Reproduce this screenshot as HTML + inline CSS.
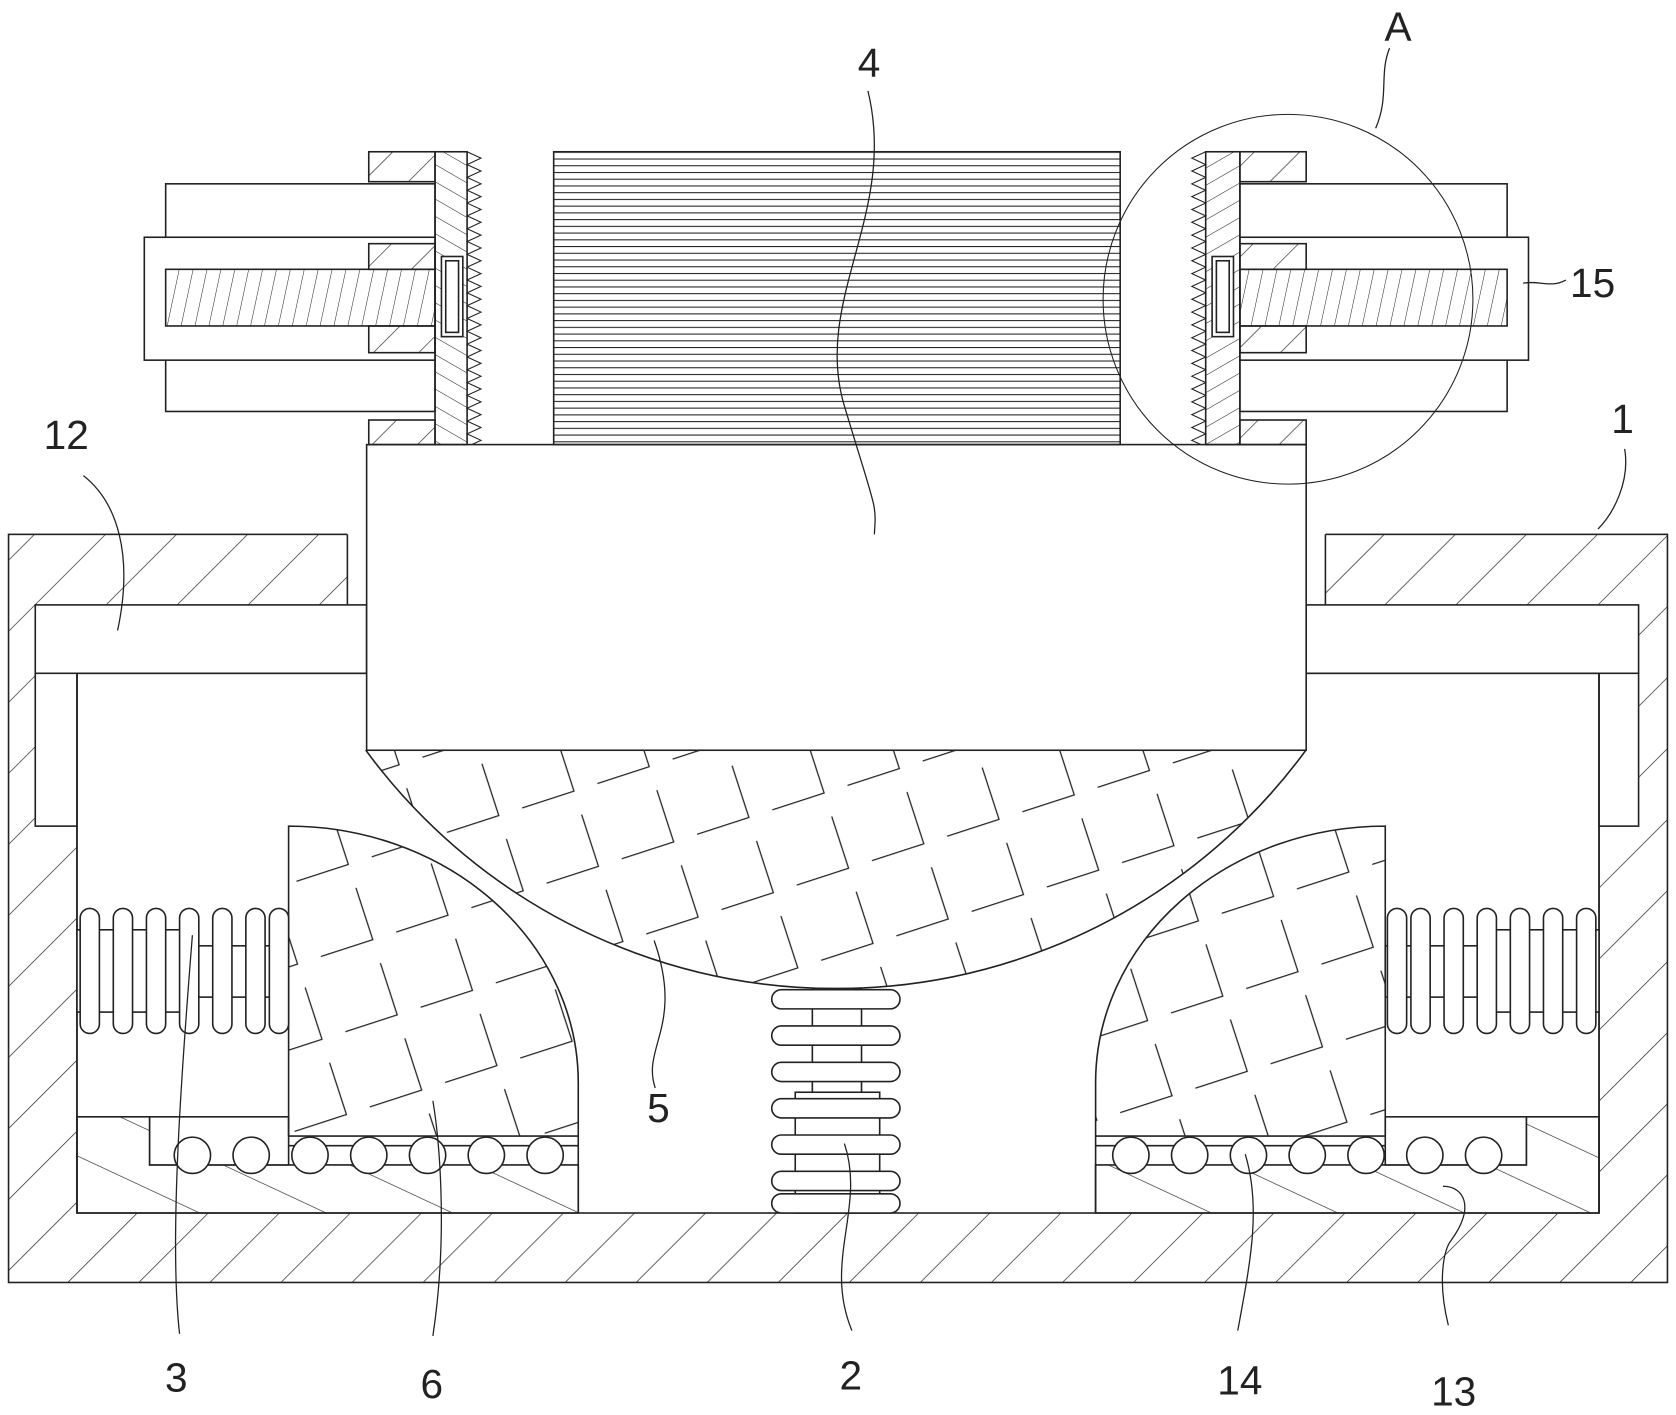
<!DOCTYPE html>
<html><head><meta charset="utf-8"><style>html,body{margin:0;padding:0;background:#fff}svg{display:block}</style></head><body>
<svg width="1676" height="1415" viewBox="0 0 1568 1324" preserveAspectRatio="none" xmlns="http://www.w3.org/2000/svg" font-family="Liberation Sans, sans-serif">
<defs>
<pattern id="h45" width="47" height="47" patternUnits="userSpaceOnUse" patternTransform="rotate(45)"><line x1="0" y1="0" x2="0" y2="47" stroke="#222" stroke-width="1.3"/></pattern>
<pattern id="hs" width="30" height="30" patternUnits="userSpaceOnUse" patternTransform="rotate(45)"><line x1="0" y1="0" x2="0" y2="30" stroke="#222" stroke-width="1.2"/></pattern>
<pattern id="hb" width="50" height="50" patternUnits="userSpaceOnUse" patternTransform="rotate(-65)"><line x1="0" y1="0" x2="0" y2="50" stroke="#222" stroke-width="1.2"/></pattern>
<pattern id="hp" width="14" height="14" patternUnits="userSpaceOnUse" patternTransform="rotate(-60)"><line x1="0" y1="0" x2="0" y2="14" stroke="#222" stroke-width="1"/></pattern>
<pattern id="hp2" width="14" height="14" patternUnits="userSpaceOnUse" patternTransform="rotate(60)"><line x1="0" y1="0" x2="0" y2="14" stroke="#222" stroke-width="1"/></pattern>
<pattern id="fin" width="10" height="6.3" patternUnits="userSpaceOnUse" y="142"><line x1="0" y1="0.5" x2="10" y2="0.5" stroke="#222" stroke-width="1"/></pattern>
<pattern id="thr" width="13" height="60" patternUnits="userSpaceOnUse" patternTransform="skewX(-12)"><line x1="0" y1="0" x2="0" y2="60" stroke="#222" stroke-width="1"/></pattern>
<pattern id="chk" width="74" height="74" patternUnits="userSpaceOnUse" patternTransform="rotate(-18)"><path d="M60 5 V56 H9" fill="none" stroke="#222" stroke-width="1.2"/></pattern>
<clipPath id="ballclip"><rect x="300" y="702" width="960" height="300"/></clipPath>
<clipPath id="serclip"><rect x="0" y="141" width="1568" height="275"/></clipPath>
<path id="serL" d="M437 142 l13 6 -13 6 l13 6 -13 6 l13 6 -13 6 l13 6 -13 6 l13 6 -13 6 l13 6 -13 6 l13 6 -13 6 l13 6 -13 6 l13 6 -13 6 l13 6 -13 6 l13 6 -13 6 l13 6 -13 6 l13 6 -13 6 l13 6 -13 6 l13 6 -13 6 l13 6 -13 6 l13 6 -13 6 l13 6 -13 6 l13 6 -13 6 l13 6 -13 6 l13 6 -13 6 l13 6 -13 6 l13 6 -13 6 l13 6 -13 6 l13 6 -13 6"/>
</defs>
<g stroke="#222" stroke-width="1.5" fill="none">
<rect x="8" y="500" width="1552" height="700" fill="url(#h45)"/>
<rect x="72" y="630" width="1424" height="505" fill="#fff"/>
<rect x="325" y="499" width="18" height="67" fill="#fff" stroke="none"/>
<line x1="325" y1="500" x2="325" y2="566"/>
<rect x="1222" y="499" width="18" height="67" fill="#fff" stroke="none"/>
<line x1="1240" y1="500" x2="1240" y2="566"/>
<rect x="33" y="566" width="310" height="64" fill="#fff"/>
<rect x="33" y="630" width="39" height="143" fill="#fff"/>
<rect x="1222" y="566" width="311" height="64" fill="#fff"/>
<rect x="1496" y="630" width="37" height="143" fill="#fff"/>
<line x1="72" y1="630" x2="72" y2="1135"/><line x1="1496" y1="630" x2="1496" y2="1135"/>
<path d="M72 1045 H140 V1090 H541 V1135 H72 Z" fill="url(#hb)"/>
<path d="M1496 1045 H1428 V1090 H1025 V1135 H1496 Z" fill="url(#hb)"/>
<rect x="140" y="1045" width="130" height="45" fill="#fff"/>
<rect x="1296" y="1045" width="132" height="45" fill="#fff"/>
<line x1="270" y1="1063" x2="541" y2="1063"/><line x1="270" y1="1072" x2="541" y2="1072"/>
<line x1="1025" y1="1063" x2="1296" y2="1063"/><line x1="1025" y1="1072" x2="1296" y2="1072"/>
<g fill="#fff">
<circle cx="180" cy="1081" r="17"/><circle cx="235" cy="1081" r="17"/><circle cx="290" cy="1081" r="17"/><circle cx="345" cy="1081" r="17"/><circle cx="400" cy="1081" r="17"/><circle cx="455" cy="1081" r="17"/><circle cx="510" cy="1081" r="17"/>
<circle cx="1058" cy="1081" r="17"/><circle cx="1113" cy="1081" r="17"/><circle cx="1168" cy="1081" r="17"/><circle cx="1223" cy="1081" r="17"/><circle cx="1278" cy="1081" r="17"/><circle cx="1333" cy="1081" r="17"/><circle cx="1388" cy="1081" r="17"/>
</g>
<path d="M270 1063 V773 A271 240 0 0 1 541 1013 V1063 Z" fill="url(#chk)" stroke="none"/>
<path d="M1296 1063 V773 A271 240 0 0 0 1025 1013 V1063 Z" fill="url(#chk)" stroke="none"/>
<circle cx="782" cy="380" r="545" fill="url(#chk)" stroke="none" clip-path="url(#ballclip)"/>
<path d="M270 1063 V773 A271 240 0 0 1 541 1013 V1135"/>
<path d="M1296 1063 V773 A271 240 0 0 0 1025 1013 V1135"/>
<circle cx="782" cy="380" r="545" clip-path="url(#ballclip)"/>
<rect x="72" y="870" width="113" height="77" fill="#fff"/><rect x="185" y="885" width="85" height="48" fill="#fff"/>
<g fill="#fff">
<rect x="75" y="850" width="18" height="117" rx="9"/><rect x="106" y="850" width="18" height="117" rx="9"/><rect x="137" y="850" width="18" height="117" rx="9"/><rect x="168" y="850" width="18" height="117" rx="9"/><rect x="199" y="850" width="18" height="117" rx="9"/><rect x="230" y="850" width="18" height="117" rx="9"/><rect x="252" y="850" width="18" height="117" rx="9"/>
</g>
<rect x="1383" y="870" width="113" height="77" fill="#fff"/><rect x="1296" y="885" width="87" height="48" fill="#fff"/>
<g fill="#fff">
<rect x="1475" y="850" width="18" height="117" rx="9"/><rect x="1444" y="850" width="18" height="117" rx="9"/><rect x="1413" y="850" width="18" height="117" rx="9"/><rect x="1382" y="850" width="18" height="117" rx="9"/><rect x="1351" y="850" width="18" height="117" rx="9"/><rect x="1320" y="850" width="18" height="117" rx="9"/><rect x="1298" y="850" width="18" height="117" rx="9"/>
</g>
<rect x="760" y="925" width="46" height="100" fill="#fff"/><rect x="744" y="1022" width="79" height="113" fill="#fff"/>
<g fill="#fff">
<rect x="722" y="926" width="120" height="18" rx="9"/><rect x="722" y="960" width="120" height="18" rx="9"/><rect x="722" y="994" width="120" height="18" rx="9"/><rect x="722" y="1028" width="120" height="18" rx="9"/><rect x="722" y="1062" width="120" height="18" rx="9"/><rect x="722" y="1096" width="120" height="18" rx="9"/><rect x="722" y="1117" width="120" height="18" rx="9"/>
</g>
<rect x="343" y="416" width="879" height="286" fill="#fff"/>
<rect x="518" y="142" width="530" height="274" fill="url(#fin)"/>
<rect x="155" y="172" width="252" height="213" fill="#fff"/>
<rect x="135" y="222" width="272" height="115" fill="#fff"/>
<rect x="345" y="142" width="62" height="28" fill="url(#hs)"/>
<rect x="345" y="228" width="62" height="24" fill="url(#hs)"/>
<rect x="345" y="305" width="62" height="25" fill="url(#hs)"/>
<rect x="345" y="393" width="62" height="23" fill="url(#hs)"/>
<rect x="155" y="252" width="252" height="53" fill="url(#thr)"/>
<rect x="407" y="142" width="30" height="274" fill="url(#hp)"/>
<g clip-path="url(#serclip)"><use href="#serL" stroke-width="1"/><use href="#serL" stroke-width="1" transform="translate(1565 0) scale(-1 1)"/></g>
<rect x="413" y="240" width="20" height="75" fill="#fff"/><rect x="417" y="244" width="12" height="67"/>
<rect x="1160" y="172" width="250" height="213" fill="#fff"/>
<rect x="1160" y="222" width="270" height="115" fill="#fff"/>
<rect x="1160" y="142" width="62" height="28" fill="url(#hs)"/>
<rect x="1160" y="228" width="62" height="24" fill="url(#hs)"/>
<rect x="1160" y="305" width="62" height="25" fill="url(#hs)"/>
<rect x="1160" y="393" width="62" height="23" fill="url(#hs)"/>
<rect x="1160" y="252" width="250" height="53" fill="url(#thr)"/>
<rect x="1128" y="142" width="32" height="274" fill="url(#hp2)"/>
<rect x="1134" y="240" width="20" height="75" fill="#fff"/><rect x="1138" y="244" width="12" height="67"/>
<circle cx="1205" cy="280" r="173" stroke-width="1"/>
<g stroke-width="1.2">
<path d="M812 85 C840 200 760 280 790 380 S820 470 818 500"/>
<path d="M1300 45 C1290 70 1300 90 1287 120"/>
<path d="M1425 265 C1440 262 1450 270 1465 262"/>
<path d="M1520 420 C1525 450 1510 480 1495 495"/>
<path d="M78 445 C110 470 125 520 110 590"/>
<path d="M168 1248 C158 1160 170 1000 180 875"/>
<path d="M405 1250 C420 1150 410 1060 405 1030"/>
<path d="M797 1245 C770 1180 810 1130 790 1070"/>
<path d="M613 1018 C600 980 640 960 612 880"/>
<path d="M1158 1245 C1170 1180 1180 1130 1165 1080"/>
<path d="M1355 1240 C1345 1200 1350 1170 1358 1160 C1380 1130 1370 1110 1350 1110"/>
</g>
</g>
<g font-size="38" fill="#222" text-anchor="middle">
<text x="813" y="72">4</text><text x="1308" y="38">A</text><text x="1490" y="278">15</text>
<text x="1518" y="405">1</text><text x="62" y="420">12</text>
<text x="165" y="1302">3</text><text x="404" y="1308">6</text><text x="796" y="1300">2</text>
<text x="616" y="1050">5</text><text x="1160" y="1305">14</text><text x="1360" y="1315">13</text>
</g>
</svg>
</body></html>
